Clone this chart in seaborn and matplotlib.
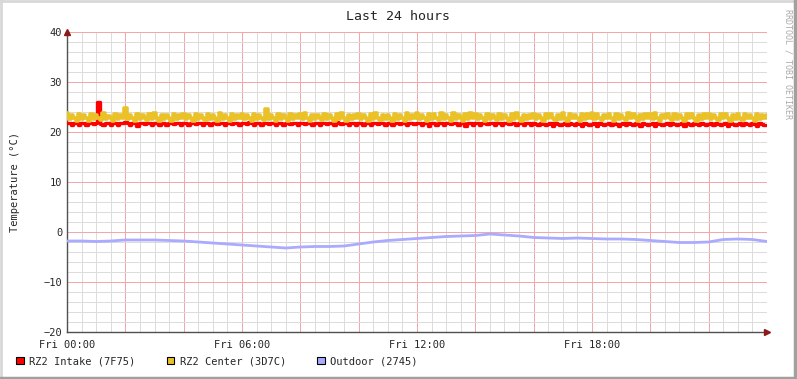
#!/usr/bin/env python3

"""RRD style 24 hour temperature graph, redrawn with seaborn"""

import numpy as np
import pandas as pd
import seaborn as sns
import matplotlib
matplotlib.use("Agg")
import matplotlib.pyplot as plt
from matplotlib.patches import Patch
from matplotlib.lines import Line2D
from matplotlib.ticker import MultipleLocator

# 5 minute samples, 00:00 .. 24:00 (two rows = 2 hours)
intake = [
    21.9, 21.8, 21.5, 21.9, 21.8, 21.4, 21.8, 21.9, 21.5, 21.8, 21.9, 21.6,
    21.8, 26.0, 21.6, 21.5, 21.9, 21.8, 21.4, 21.9, 21.8, 21.5, 21.9, 21.8,
    22.0, 21.8, 21.5, 21.9, 21.8, 21.3, 21.8, 21.9, 21.6, 21.9, 21.8, 21.4,
    21.8, 21.9, 21.5, 21.9, 21.8, 21.4, 21.9, 21.8, 21.6, 21.9, 21.8, 21.5,
    21.8, 21.9, 21.4, 21.9, 21.8, 21.6, 21.8, 21.9, 21.4, 21.9, 21.8, 21.5,
    21.8, 21.9, 21.6, 21.9, 21.8, 21.4, 21.9, 21.8, 21.6, 21.9, 21.8, 21.5,
    21.9, 21.8, 21.6, 22.0, 21.8, 21.5, 21.8, 21.9, 21.4, 21.9, 21.8, 21.6,
    21.8, 21.9, 21.5, 21.9, 21.8, 21.4, 21.9, 21.8, 21.6, 21.8, 21.9, 21.5,
    21.8, 21.9, 21.6, 21.9, 21.8, 21.5, 21.8, 21.9, 21.4, 21.9, 21.8, 21.6,
    21.8, 21.9, 21.5, 22.0, 21.8, 21.6, 21.8, 21.9, 21.5, 21.9, 21.8, 21.4,
    21.8, 21.9, 21.4, 21.9, 21.8, 21.5, 21.8, 21.9, 21.6, 21.9, 21.8, 21.4,
    21.8, 21.9, 21.5, 21.9, 21.8, 21.6, 21.9, 21.8, 21.4, 21.9, 21.8, 21.6,
    21.8, 21.9, 21.4, 21.9, 21.8, 21.3, 21.8, 21.9, 21.5, 21.9, 21.8, 21.4,
    21.8, 21.9, 21.6, 21.9, 21.8, 21.5, 21.9, 21.8, 21.3, 21.9, 21.8, 21.5,
    21.8, 21.9, 21.4, 21.9, 21.8, 21.6, 21.8, 21.9, 21.5, 21.9, 21.8, 21.4,
    21.8, 21.9, 21.6, 21.9, 21.8, 21.5, 21.9, 21.8, 21.4, 21.9, 21.8, 21.5,
    21.8, 21.7, 21.4, 21.9, 21.7, 21.5, 21.7, 21.8, 21.3, 21.8, 21.7, 21.5,
    21.7, 21.8, 21.4, 21.8, 21.7, 21.5, 21.8, 21.7, 21.3, 21.8, 21.7, 21.5,
    21.7, 21.8, 21.3, 21.8, 21.7, 21.5, 21.7, 21.8, 21.4, 21.8, 21.7, 21.3,
    21.7, 21.8, 21.5, 21.8, 21.7, 21.4, 21.8, 21.7, 21.3, 21.8, 21.7, 21.4,
    21.7, 21.8, 21.3, 21.8, 21.7, 21.5, 21.7, 21.8, 21.4, 21.8, 21.7, 21.5,
    21.7, 21.8, 21.3, 21.8, 21.7, 21.5, 21.8, 21.7, 21.4, 21.8, 21.7, 21.5,
    21.7, 21.8, 21.4, 21.8, 21.7, 21.5, 21.7, 21.8, 21.3, 21.8, 21.7, 21.5,
    21.7, 21.8, 21.4, 21.8, 21.7, 21.5, 21.8, 21.7, 21.3, 21.8, 21.7, 21.5,
    21.4,
]

center = [
    23.8, 22.6, 23.5, 22.8, 22.3, 23.7, 22.7, 23.4, 22.9, 22.3, 23.6, 22.6,
    23.5, 22.8, 22.4, 23.8, 22.7, 23.3, 22.8, 22.3, 23.6, 22.7, 23.5, 22.9,
    24.8, 22.6, 23.4, 22.8, 22.3, 23.7, 22.7, 23.5, 22.8, 22.4, 23.6, 22.6,
    23.8, 22.9, 22.3, 23.5, 22.7, 23.4, 22.8, 22.3, 23.7, 22.6, 23.5, 22.8,
    23.6, 22.6, 23.4, 22.8, 22.3, 23.7, 22.7, 23.5, 22.9, 22.4, 23.6, 22.6,
    23.4, 22.8, 22.3, 23.8, 22.7, 23.5, 22.8, 22.3, 23.6, 22.6, 23.4, 22.9,
    23.7, 22.6, 23.5, 22.8, 22.3, 23.6, 22.7, 23.4, 22.8, 22.4, 24.6, 22.7,
    23.5, 22.9, 22.3, 23.6, 22.6, 23.4, 22.8, 22.3, 23.7, 22.7, 23.5, 22.8,
    23.6, 22.6, 23.8, 22.8, 22.3, 23.5, 22.7, 23.4, 22.9, 22.4, 23.7, 22.6,
    23.5, 22.8, 22.3, 23.6, 22.7, 23.8, 22.8, 22.3, 23.5, 22.6, 23.4, 22.9,
    23.7, 22.6, 23.5, 22.8, 22.3, 23.6, 22.7, 23.8, 22.8, 22.4, 23.5, 22.6,
    23.4, 22.9, 22.3, 23.7, 22.7, 23.5, 22.8, 22.3, 23.8, 22.6, 23.4, 22.8,
    23.9, 22.6, 23.5, 22.8, 22.3, 23.7, 22.7, 23.6, 22.9, 22.4, 23.8, 22.6,
    23.5, 22.8, 22.3, 23.9, 22.7, 23.4, 22.8, 22.3, 23.6, 22.6, 23.8, 22.9,
    23.7, 22.6, 23.5, 22.8, 22.3, 23.6, 22.7, 23.4, 22.8, 22.4, 23.7, 22.6,
    23.5, 22.9, 22.3, 23.6, 22.7, 23.8, 22.8, 22.3, 23.5, 22.6, 23.4, 22.8,
    23.6, 22.7, 23.5, 22.9, 22.3, 23.7, 22.8, 23.6, 22.9, 22.4, 23.5, 22.7,
    23.8, 22.9, 22.3, 23.6, 22.8, 23.5, 22.9, 22.3, 23.7, 22.7, 23.6, 22.9,
    23.8, 22.7, 23.6, 22.9, 22.4, 23.5, 22.8, 23.7, 22.9, 22.3, 23.6, 22.7,
    23.5, 22.9, 22.4, 23.8, 22.8, 23.6, 22.9, 22.3, 23.5, 22.7, 23.7, 22.9,
    23.6, 22.7, 23.8, 22.9, 22.3, 23.5, 22.8, 23.6, 22.9, 22.4, 23.7, 22.7,
    23.5, 22.9, 22.3, 23.6, 22.8, 23.7, 22.9, 22.3, 23.5, 22.7, 23.6, 22.9,
    23.7, 22.7, 23.5, 22.9, 22.4, 23.6, 22.8, 23.7, 22.9, 22.3, 23.5, 22.7,
    23.6, 22.9, 22.4, 23.7, 22.8, 23.5, 22.9, 22.3, 23.6, 22.7, 23.5, 22.9,
    23.4,
]

# 30 minute samples, 00:00 .. 24:00
outdoor = [
    -1.8, -1.8, -1.9, -1.8, -1.6, -1.6, -1.6, -1.7, -1.8, -2.0,
    -2.2, -2.4, -2.6, -2.8, -3.0, -3.2, -3.0, -2.9, -2.9, -2.8,
    -2.4, -2.0, -1.7, -1.5, -1.3, -1.1, -0.9, -0.8, -0.7, -0.4,
    -0.6, -0.8, -1.1, -1.2, -1.3, -1.2, -1.3, -1.4, -1.4, -1.5,
    -1.7, -1.9, -2.1, -2.1, -2.0, -1.5, -1.4, -1.5, -1.9,
]

names = ["RZ2 Intake (7F75)", "RZ2 Center (3D7C)", "Outdoor (2745)"]
colors = ["#FF0000", "#EAC228", "#AAAAFF"]
tick_hours = [0, 6, 12, 18]
tick_names = ["Fri 00:00", "Fri 06:00", "Fri 12:00", "Fri 18:00"]

fast = pd.DataFrame({"hour": np.arange(len(intake)) / 12.0, "intake": intake})
mid = pd.DataFrame({"hour": np.arange(len(center)) / 12.0, "center": center})
slow = pd.DataFrame({"hour": np.arange(len(outdoor)) / 2.0, "outdoor": outdoor})

sns.set_style("white")
plt.rcParams["font.family"] = ["DejaVu Sans Mono", "DejaVu Sans"]

fig = plt.figure(figsize=(7.97, 3.79), dpi=100)
fig.patch.set_facecolor("white")
ax = fig.add_axes([67 / 797, 47 / 379, 700 / 797, 300 / 379])
ax.set_facecolor("white")

sns.lineplot(data=fast, x="hour", y="intake", ax=ax, color=colors[0],
             linewidth=2.4, drawstyle="steps-mid", zorder=3)
sns.lineplot(data=mid, x="hour", y="center", ax=ax, color=colors[1],
             linewidth=2.6, drawstyle="steps-mid", zorder=4)
sns.lineplot(data=slow, x="hour", y="outdoor", ax=ax, color=colors[2],
             linewidth=2.0, zorder=5)

ax.set_xlim(0, 24)
ax.set_ylim(-20, 40)

# grid: grey minor, pale red major
ax.xaxis.set_major_locator(MultipleLocator(2))
ax.xaxis.set_minor_locator(MultipleLocator(0.5))
ax.yaxis.set_major_locator(MultipleLocator(10))
ax.yaxis.set_minor_locator(MultipleLocator(2))
ax.grid(which="minor", color="#DCDCDC", linewidth=0.72, zorder=0)
ax.grid(which="major", color="#F2A8A8", linewidth=0.72, zorder=1)
ax.set_axisbelow(True)

xt = np.arange(0, 25, 2)
ax.set_xticks(xt)
ax.set_xticklabels([tick_names[tick_hours.index(h)] if h in tick_hours else ""
                    for h in xt])
ax.tick_params(axis="x", which="major", length=3, color="#F08080",
               labelsize=7.5, pad=3, direction="out")
ax.tick_params(axis="x", which="minor", length=3, color="#B0B0B0",
               direction="out")
ax.tick_params(axis="y", which="major", length=3, color="#404040",
               labelsize=7.5, pad=2, direction="inout")
ax.tick_params(axis="y", which="minor", length=0)

for side in ["top", "right"]:
    ax.spines[side].set_visible(False)
for side in ["left", "bottom"]:
    ax.spines[side].set_color("#505050")
    ax.spines[side].set_linewidth(1)

# axis arrows
ax.plot([0], [1.0], marker="^", color="#8B1A1A", markersize=4,
        transform=ax.transAxes, clip_on=False, zorder=10)
ax.plot([1.0], [0], marker=">", color="#8B1A1A", markersize=4,
        transform=ax.transAxes, clip_on=False, zorder=10)

ax.set_xlabel("")
ax.set_ylabel("")
fig.text(15 / 797, 1 - 182 / 379, "Temperature (°C)", rotation=90,
         ha="center", va="center", fontsize=7.5)

fig.text(0.5, 1 - 16 / 379, "Last 24 hours", ha="center", va="center",
         fontsize=9.5)
fig.text(788 / 797, 1 - 9 / 379, "RRDTOOL / TOBI OETIKER", rotation=-90,
         ha="center", va="top", fontsize=6, color="#AAAAAA")

handles = [Patch(facecolor=c, edgecolor="black", linewidth=0.8) for c in colors]
fig.legend(handles, names, loc="center left",
           bbox_to_anchor=(16 / 797, 1 - 361 / 379),
           ncol=3, frameon=False, fontsize=7.5, handlelength=0.75,
           handleheight=0.75, handletextpad=0.5, columnspacing=3.0,
           borderaxespad=0, borderpad=0)

# 3d-ish border round the canvas
fig.add_artist(Line2D([0, 1], [0.998, 0.998], color="#D8D8D8", linewidth=2,
                      transform=fig.transFigure))
fig.add_artist(Line2D([0.001, 0.001], [0, 1], color="#D8D8D8", linewidth=2,
                      transform=fig.transFigure))
fig.add_artist(Line2D([0, 1], [0.003, 0.003], color="#A0A0A0", linewidth=2.5,
                      transform=fig.transFigure))
fig.add_artist(Line2D([0.998, 0.998], [0, 1], color="#A0A0A0", linewidth=2.5,
                      transform=fig.transFigure))

fig.savefig("out.png", dpi=100)
